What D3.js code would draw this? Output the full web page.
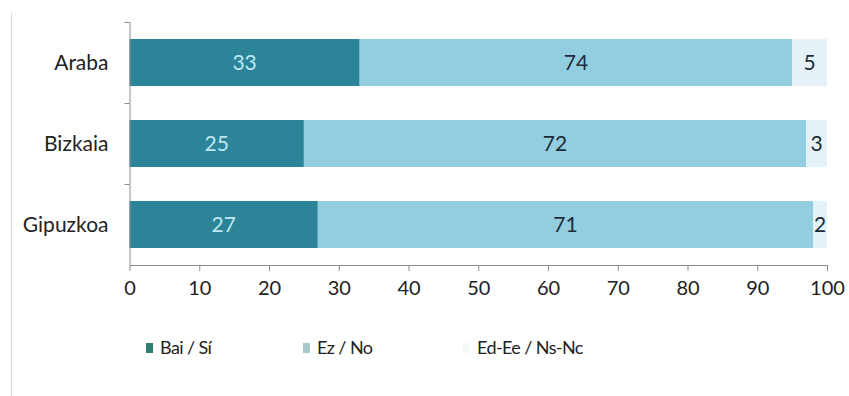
<!DOCTYPE html>
<html>
<head>
<meta charset="utf-8">
<script src="https://cdn.jsdelivr.net/npm/d3@7"></script>
<style>
  body { margin: 0; background: #fff; }
  svg { font-family: Lato, "Open Sans", sans-serif; }
  .axis path, .axis line { stroke: #8c8c8c; }
  .axis text { fill: #222; font-size: 20px; font-family: Lato, sans-serif; }
  .legend text { font-family: Lato, sans-serif; letter-spacing: -0.6px; }
</style>
</head>
<body>
<div id="chart"></div>
<script>
// data
var provinces = ["Araba", "Bizkaia", "Gipuzkoa"];
var baiSi = [33, 25, 27];
var ezNo = [62, 72, 71];            // drawn length of the bar
var ezNoLabels = ["74", "72", "71"]; // label as printed on the bar
var edEe = [5, 3, 2];
var seriesNames = ["Bai / Sí", "Ez / No", "Ed-Ee / Ns-Nc"];
var xTicks = [0, 10, 20, 30, 40, 50, 60, 70, 80, 90, 100];

var colors = ["#2b8498", "#93cde0", "#e4f2f7"];
var legendColors = ["#2f7d6f", "#a9c7c6", "#f4f8f9"];
var labelColors = ["#c0e6f3", "#1c2b36", "#1c2b36"];

var W = 849, H = 396;
var margin = {top: 22, right: 22, bottom: 131, left: 129.5};
var width = W - margin.left - margin.right;
var height = H - margin.top - margin.bottom;

var svg = d3.select("#chart").append("svg")
    .attr("width", W)
    .attr("height", H);

// thin frame line at the left
svg.append("line")
    .attr("x1", 11.5).attr("x2", 11.5)
    .attr("y1", 13).attr("y2", H)
    .attr("stroke", "#d9d9d9");

var g = svg.append("g")
    .attr("transform", "translate(" + margin.left + "," + margin.top + ")");

var x = d3.scaleLinear().domain([0, 100]).range([0, width]);
var y = d3.scaleBand().domain(provinces).range([0, height]).paddingInner(0.42).paddingOuter(0.21);

var rows = provinces.map(function(p, i) {
  return {province: p, bai: baiSi[i], ez: ezNo[i], ed: edEe[i]};
});
var series = d3.stack().keys(["bai", "ez", "ed"])(rows);

var labelText = [
  function(d, i) { return baiSi[i]; },
  function(d, i) { return ezNoLabels[i]; },
  function(d, i) { return edEe[i]; }
];

series.forEach(function(s, k) {
  var layer = g.append("g");
  layer.selectAll("rect")
      .data(s)
    .enter().append("rect")
      .attr("x", function(d) { return x(d[0]); })
      .attr("y", function(d) { return y(d.data.province); })
      .attr("width", function(d) { return x(d[1]) - x(d[0]); })
      .attr("height", y.bandwidth())
      .attr("fill", colors[k]);
  layer.selectAll("text")
      .data(s)
    .enter().append("text")
      .attr("x", function(d) { return (x(d[0]) + x(d[1])) / 2; })
      .attr("y", function(d) { return y(d.data.province) + y.bandwidth() / 2; })
      .attr("dy", "0.36em")
      .attr("text-anchor", "middle")
      .attr("font-size", 21)
      .attr("fill", labelColors[k])
      .text(labelText[k]);
});

// x axis
var xAxis = d3.axisBottom(x).tickValues(xTicks).tickSize(6).tickPadding(10).tickSizeOuter(0);
g.append("g")
    .attr("class", "axis")
    .attr("transform", "translate(0," + height + ")")
    .call(xAxis);

// y axis: line with ticks at category boundaries
var yAxisG = g.append("g").attr("class", "axis");
yAxisG.append("line")
    .attr("x1", 0.5).attr("x2", 0.5)
    .attr("y1", 0).attr("y2", height);
yAxisG.selectAll(".bt")
    .data(d3.range(provinces.length))
  .enter().append("line")
    .attr("x1", -5).attr("x2", 0)
    .attr("y1", function(i) { return i * (height / provinces.length) + 0.5; })
    .attr("y2", function(i) { return i * (height / provinces.length) + 0.5; });
yAxisG.selectAll("text")
    .data(provinces)
  .enter().append("text")
    .attr("x", -21)
    .attr("y", function(d) { return y(d) + y.bandwidth() / 2; })
    .attr("dy", "0.36em")
    .attr("text-anchor", "end")
    .style("font-size", "21px")
    .text(function(d) { return d; });

// legend
var legendX = [146, 303, 463];
var legend = svg.append("g").attr("class", "legend");
var item = legend.selectAll("g")
    .data(seriesNames)
  .enter().append("g")
    .attr("transform", function(d, i) { return "translate(" + legendX[i] + ",348)"; });
item.append("rect")
    .attr("x", 0).attr("y", -5)
    .attr("width", 7).attr("height", 10)
    .attr("fill", function(d, i) { return legendColors[i]; });
item.append("text")
    .attr("x", 14)
    .attr("dy", "0.36em")
    .attr("font-size", 18)
    .attr("fill", "#222")
    .text(function(d) { return d; });
</script>
</body>
</html>
